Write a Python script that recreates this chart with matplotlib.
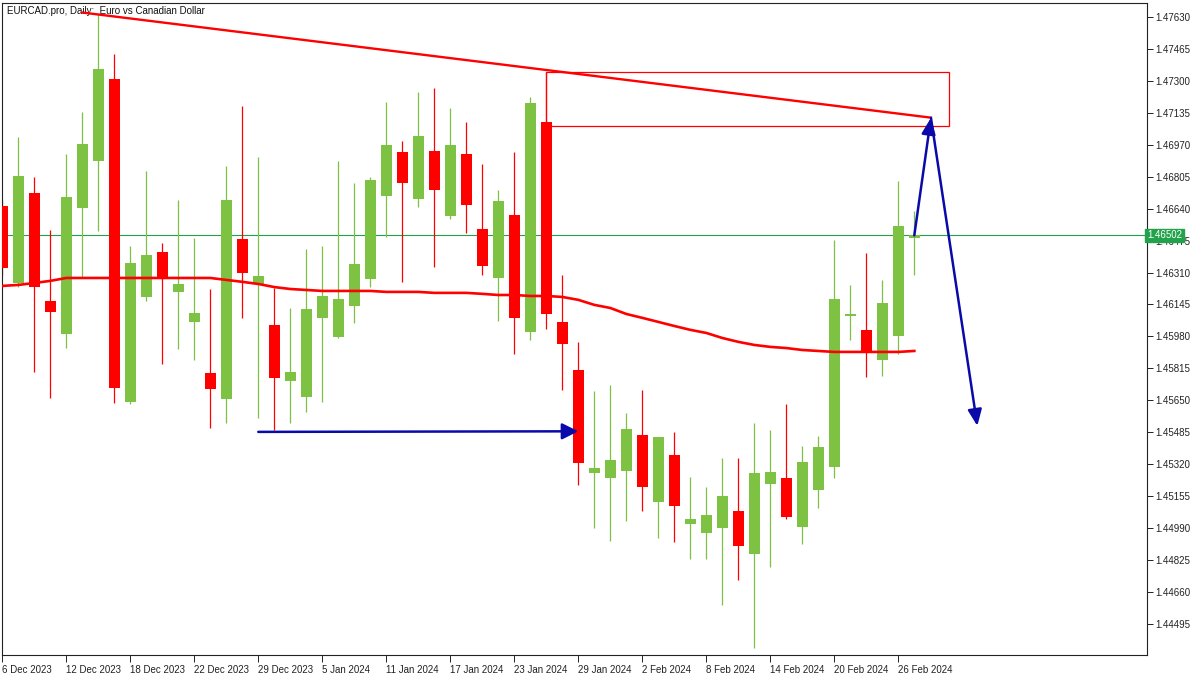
import matplotlib
matplotlib.use("Agg")
import matplotlib.pyplot as plt
from matplotlib.patches import Rectangle
import matplotlib.transforms as mtransforms

# ---- data ----
opens = [1.46654, 1.46256, 1.46721, 1.46163, 1.45993, 1.46643, 1.46886, 1.47310, 1.45642, 1.46184,
         1.46416, 1.46210, 1.46055, 1.45791, 1.45657, 1.46484, 1.46251, 1.46039, 1.45750, 1.45668,
         1.46076, 1.45977, 1.46138, 1.46277, 1.46706, 1.46933, 1.46690, 1.46938, 1.46602, 1.46922,
         1.46535, 1.46282, 1.46608, 1.46003, 1.47088, 1.46055, 1.45807, 1.45275, 1.45249, 1.45285,
         1.45471, 1.45125, 1.45368, 1.45012, 1.44965, 1.44991, 1.45079, 1.44856, 1.45218, 1.45249,
         1.44996, 1.45187, 1.45306, 1.46088, 1.46013, 1.45859, 1.45983, 1.46489]
highs = [1.46685, 1.47010, 1.46804, 1.46530, 1.46922, 1.47139, 1.47651, 1.47439, 1.46447, 1.46835,
         1.46463, 1.46685, 1.46489, 1.46225, 1.46861, 1.47171, 1.46907, 1.46231, 1.46127, 1.46432,
         1.46447, 1.46886, 1.46773, 1.46804, 1.47191, 1.46990, 1.47243, 1.47264, 1.47160, 1.47088,
         1.46871, 1.46737, 1.46933, 1.47217, 1.47346, 1.46297, 1.45952, 1.45699, 1.45730, 1.45585,
         1.45704, 1.45461, 1.45487, 1.45254, 1.45203, 1.45352, 1.45352, 1.45533, 1.45497, 1.45631,
         1.45414, 1.45466, 1.46478, 1.46246, 1.46411, 1.46272, 1.46783, 1.46628]
lows = [1.46297, 1.46235, 1.45796, 1.45662, 1.45920, 1.46282, 1.46525, 1.45636, 1.45631, 1.46163,
        1.45838, 1.45915, 1.45859, 1.45507, 1.45533, 1.46076, 1.45559, 1.45497, 1.45533, 1.45590,
        1.45642, 1.45972, 1.46050, 1.46235, 1.46494, 1.46262, 1.46649, 1.46339, 1.46587, 1.46515,
        1.46297, 1.46060, 1.45890, 1.45962, 1.46019, 1.45704, 1.45213, 1.44991, 1.44924, 1.45027,
        1.45079, 1.44939, 1.44919, 1.44831, 1.44831, 1.44593, 1.44722, 1.44371, 1.44789, 1.45037,
        1.44908, 1.45094, 1.45249, 1.45962, 1.45771, 1.45776, 1.45890, 1.46297]
closes = [1.46334, 1.46809, 1.46235, 1.46106, 1.46700, 1.46974, 1.47361, 1.45714, 1.46360, 1.46401,
          1.46277, 1.46251, 1.46101, 1.45709, 1.46685, 1.46308, 1.46293, 1.45766, 1.45796, 1.46122,
          1.46189, 1.46174, 1.46354, 1.46788, 1.46969, 1.46773, 1.47016, 1.46737, 1.46969, 1.46659,
          1.46344, 1.46680, 1.46076, 1.47186, 1.46096, 1.45941, 1.45327, 1.45301, 1.45342, 1.45502,
          1.45203, 1.45461, 1.45105, 1.45037, 1.45058, 1.45156, 1.44898, 1.45275, 1.45280, 1.45048,
          1.45332, 1.45409, 1.46174, 1.46094, 1.45900, 1.46153, 1.46551, 1.46502]
ma_values = [1.46241, 1.46246, 1.46256, 1.46267, 1.46282, 1.46282, 1.46282, 1.46282, 1.46282, 1.46282,
             1.46282, 1.46282, 1.46282, 1.46282, 1.46272, 1.46262, 1.46251, 1.46235, 1.46225, 1.46220,
             1.46215, 1.46215, 1.46215, 1.46215, 1.46210, 1.46210, 1.46210, 1.46205, 1.46205, 1.46205,
             1.46200, 1.46194, 1.46194, 1.46189, 1.46189, 1.46184, 1.46169, 1.46143, 1.46127, 1.46096,
             1.46076, 1.46055, 1.46034, 1.46014, 1.45998, 1.45972, 1.45952, 1.45936, 1.45926, 1.45920,
             1.45910, 1.45905, 1.45900, 1.45900, 1.45900, 1.45900, 1.45900, 1.45905]

date_tick_bars = [0, 4, 8, 12, 16, 20, 24, 28, 32, 36, 40, 44, 48, 52, 56]
date_labels = ["6 Dec 2023", "12 Dec 2023", "18 Dec 2023", "22 Dec 2023", "29 Dec 2023",
               "5 Jan 2024", "11 Jan 2024", "17 Jan 2024", "23 Jan 2024", "29 Jan 2024",
               "2 Feb 2024", "8 Feb 2024", "14 Feb 2024", "20 Feb 2024", "26 Feb 2024"]
price_ticks = [1.47630, 1.47465, 1.47300, 1.47135, 1.46970, 1.46805, 1.46640, 1.46475, 1.46310,
               1.46145, 1.45980, 1.45815, 1.45650, 1.45485, 1.45320, 1.45155, 1.44990, 1.44825,
               1.44660, 1.44495]
current_price = 1.46502

# drawings
trend_x = [5.0, 58.04]
trend_y = [1.47653, 1.47110]
zone_x = [34.0, 59.15]
zone_y = [1.47067, 1.47345]
support_x = [16.0, 36.0]
support_y = [1.45487, 1.45490]
path_x = [57.0, 58.04, 60.94]
path_y = [1.46502, 1.47109, 1.45518]

title = "EURCAD.pro, Daily:  Euro vs Canadian Dollar"

# ---- styling ----
BULL = "#7DC243"
BEAR = "#FF0000"
BLUE = "#0A0AAA"
PRICE_GREEN = "#22A24A"
FONT = ["Liberation Sans", "DejaVu Sans"]
plt.rcParams["font.family"] = FONT

W, H = 1200, 675
fig = plt.figure(figsize=(12, 6.75), dpi=100)
fig.patch.set_facecolor("white")
ax = fig.add_axes([2 / W, 20 / H, 1145 / W, 652 / H])
ax.set_facecolor("white")

px_per_bar = 16.0
x0 = 2.3
ax.set_xlim((2 - x0) / px_per_bar, (1147 - x0) / px_per_bar)
ax.set_ylim(1.443346, 1.477022)

# candles
body_w = 0.68
for i in range(len(opens)):
    o, h, l, c = opens[i], highs[i], lows[i], closes[i]
    col = BULL if c >= o else BEAR
    ax.vlines(i, l, h, color=col, linewidth=0.9, zorder=2)
    bot = min(o, c)
    ht = max(abs(c - o), 0.00005)
    ax.add_patch(Rectangle((i - body_w / 2, bot), body_w, ht, facecolor=col,
                           edgecolor="none", zorder=3))

# moving average
ax.plot(range(len(ma_values)), ma_values, color="#FF0000", linewidth=1.9, zorder=4,
        solid_joinstyle="round")

# current price line
ax.axhline(current_price, color=PRICE_GREEN, linewidth=0.8, zorder=1)

# trend line
ax.plot(trend_x, trend_y, color="#FF0000", linewidth=1.7, zorder=5)

# zone rectangle
ax.add_patch(Rectangle((zone_x[0], zone_y[0]), zone_x[1] - zone_x[0], zone_y[1] - zone_y[0],
                       facecolor="none", edgecolor="#FF0000", linewidth=0.9, zorder=5))

# blue support arrow
ax.annotate("", xy=(support_x[1], support_y[1]), xytext=(support_x[0], support_y[0]),
            arrowprops=dict(arrowstyle="-|>,head_length=0.7,head_width=0.35", color=BLUE,
                            lw=1.8, shrinkA=0, shrinkB=0, mutation_scale=14), zorder=6)

# projected path
for k in range(2):
    ax.annotate("", xy=(path_x[k + 1], path_y[k + 1]), xytext=(path_x[k], path_y[k]),
                arrowprops=dict(arrowstyle="-|>,head_length=0.7,head_width=0.3", color=BLUE,
                                lw=1.8, shrinkA=0, shrinkB=0, mutation_scale=14), zorder=6)

# axes
for s in ax.spines.values():
    s.set_color("#222222")
    s.set_linewidth(0.8)
ax.yaxis.tick_right()
ax.set_yticks(price_ticks)
ax.set_yticklabels([f"{p:.5f}" for p in price_ticks])
ax.tick_params(axis="y", direction="out", length=4, width=0.7, pad=2, labelsize=7,
               colors="#222222")
ax.set_xticks(date_tick_bars)
ax.set_xticklabels(date_labels)
ax.tick_params(axis="x", direction="out", length=5, width=0.7, pad=2, labelsize=7,
               colors="#222222")
for lab in ax.get_xticklabels():
    lab.set_horizontalalignment("left")

# current price label
trans = mtransforms.blended_transform_factory(ax.transAxes, ax.transData)
ax.text(1.0, current_price, "1.46502", transform=trans, ha="left", va="center",
        fontsize=7, color="white", zorder=10, clip_on=False,
        bbox=dict(boxstyle="square,pad=0.18", facecolor=PRICE_GREEN, edgecolor=PRICE_GREEN))

# title
ax.annotate(title, xy=(0, 1), xycoords="axes fraction", xytext=(3.5, -2),
            textcoords="offset points", ha="left", va="top", fontsize=7, color="#111111")

fig.savefig("out.png", dpi=100, facecolor="white")
